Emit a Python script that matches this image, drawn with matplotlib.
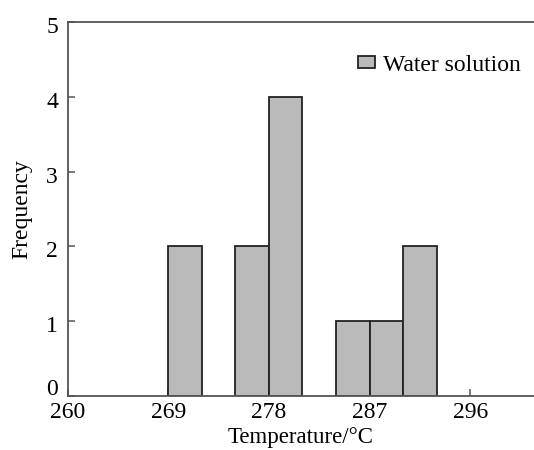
import matplotlib.pyplot as plt
from matplotlib.patches import Patch
from matplotlib.transforms import ScaledTranslation

# Histogram bins (left edges, width) and counts
bin_left = [269, 275, 278, 284, 287, 290]
bin_width = 3
counts = [2, 2, 4, 1, 1, 2]
xticks = [260, 269, 278, 287, 296]
yticks = [0, 1, 2, 3, 4, 5]

plt.rcParams['font.family'] = ['Liberation Serif', 'DejaVu Serif']

fig = plt.figure(figsize=(5.34, 4.5), dpi=100)
ax = fig.add_axes([0.1266, 0.12, 0.8734, 0.831])

ax.bar(bin_left, counts, width=bin_width, align='edge',
       color='#bababa', edgecolor='#222222', linewidth=1.3, zorder=2)

ax.set_xlim(260, 301.7)
ax.set_ylim(0, 5)
ax.set_xticks(xticks)
ax.set_yticks(yticks)
ax.tick_params(direction='in', length=5, width=1.1, color='#555555',
               labelsize=17)
ax.tick_params(axis='x', pad=4.5)
ax.tick_params(axis='y', pad=7)

# y labels sit a little below their ticks, the "0" is lifted off the x axis
for lab in ax.get_yticklabels():
    dy = 9 if lab.get_text() == '0' else -3
    lab.set_transform(lab.get_transform() + ScaledTranslation(0, dy / 100, fig.dpi_scale_trans))

for side in ['left', 'bottom', 'top']:
    ax.spines[side].set_color('#555555')
    ax.spines[side].set_linewidth(1.3)
ax.spines['right'].set_visible(False)

ax.set_xlabel('Temperature/°C', fontsize=16.5, labelpad=3)
ax.set_ylabel('Frequency', fontsize=17, labelpad=10)

handle = Patch(facecolor='#bababa', edgecolor='#222222', linewidth=1.3)
ax.legend([handle], ['Water solution'], loc='upper right',
          bbox_to_anchor=(1.017, 0.97), frameon=False, fontsize=17,
          handlelength=0.7, handleheight=0.45, handletextpad=0.35)

fig.savefig('out.png', dpi=100)
